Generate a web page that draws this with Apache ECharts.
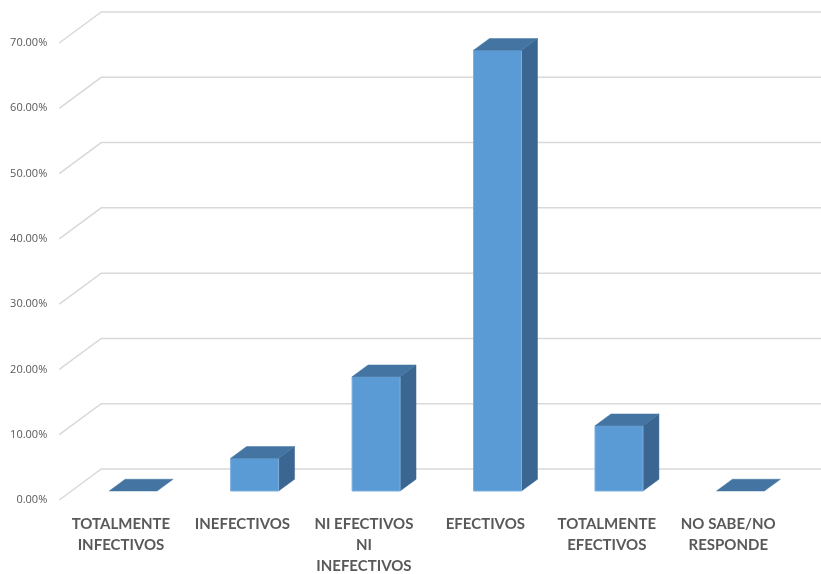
<!DOCTYPE html>
<html>
<head>
<meta charset="utf-8">
<script src="https://cdn.jsdelivr.net/npm/echarts@6/dist/echarts.min.js"></script>
<style>
  html, body { margin: 0; padding: 0; background: #ffffff; }
  #chart { width: 821px; height: 574px; }
</style>
</head>
<body>
<div id="chart"></div>
<script>
// Survey answers (share of respondents)
var categories = [
  'TOTALMENTE\nINFECTIVOS',
  'INEFECTIVOS',
  'NI EFECTIVOS\nNI\nINEFECTIVOS',
  'EFECTIVOS',
  'TOTALMENTE\nEFECTIVOS',
  'NO SABE/NO\nRESPONDE'
];
var shares = [0, 0.05, 0.175, 0.675, 0.10, 0];
var yTicks = [0, 0.1, 0.2, 0.3, 0.4, 0.5, 0.6, 0.7];

// Oblique depth of the floor (pixels) and where the bars sit inside it
var DEPTH_X = 42, DEPTH_Y = -31;
var BAR_FRONT = 0.29, BAR_BACK = 0.67;
var BAR_WIDTH = 0.395;

var chart = echarts.init(document.getElementById('chart'), null, { renderer: 'canvas' });

function renderGridLine(params, api) {
  var y = api.coord([0, api.value(1)])[1];
  var x0 = params.coordSys.x - 1;
  return {
    type: 'polyline',
    shape: {
      points: [
        [x0, y],
        [x0 + DEPTH_X, y + DEPTH_Y],
        [api.getWidth(), y + DEPTH_Y]
      ]
    },
    style: { stroke: '#D9D9D9', lineWidth: 1.5, fill: null },
    silent: true
  };
}

function renderBar(params, api) {
  var idx = api.value(0);
  var top = api.coord([idx, api.value(1)]);
  var base = api.coord([idx, 0]);
  var w = api.size([1, 0])[0] * BAR_WIDTH;
  var ox = BAR_FRONT * DEPTH_X, oy = BAR_FRONT * DEPTH_Y;
  var dx = (BAR_BACK - BAR_FRONT) * DEPTH_X, dy = (BAR_BACK - BAR_FRONT) * DEPTH_Y;
  var xl = top[0] + ox - w / 2, xr = top[0] + ox + w / 2;
  var yt = top[1] + oy, yb = base[1] + oy;
  var children = [];
  if (yb - yt > 0.5) {
    children.push({
      type: 'polygon',
      shape: { points: [[xr, yt], [xr + dx, yt + dy], [xr + dx, yb + dy], [xr, yb]] },
      style: { fill: '#3A6691', stroke: '#3A6691', lineWidth: 0.5 }
    });
    children.push({
      type: 'rect',
      shape: { x: xl, y: yt, width: w, height: yb - yt },
      style: { fill: '#5B9BD5', stroke: '#7BAEDE', lineWidth: 1 }
    });
  }
  children.push({
    type: 'polygon',
    shape: { points: [[xl, yt], [xr, yt], [xr + dx, yt + dy], [xl + dx, yt + dy]] },
    style: { fill: '#4475A2', stroke: '#4475A2', lineWidth: 0.5 }
  });
  return { type: 'group', children: children };
}

chart.setOption({
  animation: false,
  backgroundColor: '#ffffff',
  grid: {
    left: 60.25, right: 32, top: 43, bottom: 74,
    containLabel: false,
    outerBoundsMode: 'none'
  },
  xAxis: {
    type: 'category',
    data: categories,
    axisLine: { show: false },
    axisTick: { show: false },
    axisLabel: {
      interval: 0,
      margin: 14,
      color: '#595959',
      fontFamily: 'Lato',
      fontWeight: 'bold',
      fontSize: 15,
      lineHeight: 21,
      align: 'center'
    }
  },
  yAxis: {
    type: 'value',
    min: 0,
    max: 0.7,
    interval: 0.1,
    axisLine: { show: false },
    axisTick: { show: false },
    splitLine: { show: false },
    axisLabel: {
      margin: 13,
      color: '#595959',
      fontFamily: 'Open Sans',
      fontSize: 11,
      formatter: function (v) { return (v * 100).toFixed(2) + '%'; }
    }
  },
  series: [
    {
      type: 'custom',
      z: 1,
      renderItem: renderGridLine,
      data: yTicks.map(function (v) { return [0, v]; }),
      silent: true,
      clip: false
    },
    {
      type: 'custom',
      z: 2,
      renderItem: renderBar,
      data: shares.map(function (v, i) { return [i, v]; }),
      clip: false
    }
  ]
});
</script>
</body>
</html>
